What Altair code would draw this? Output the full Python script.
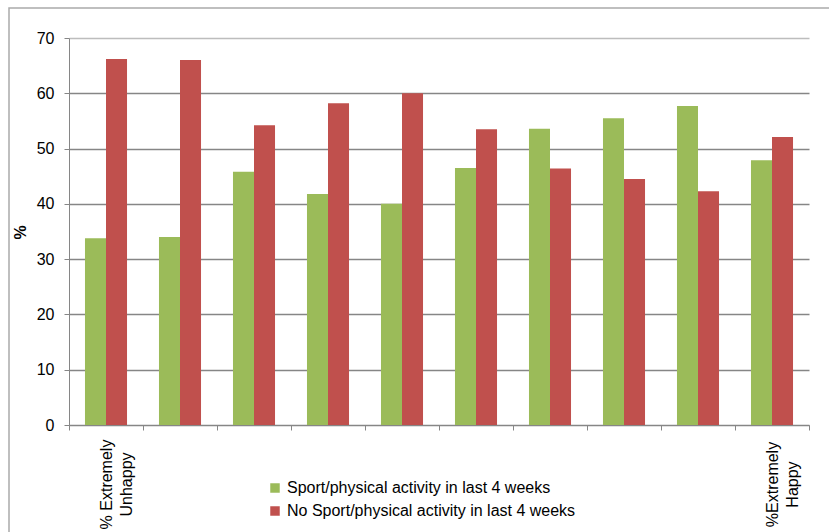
import altair as alt
import pandas as pd

# Happiness scale, 1 = extremely unhappy ... 10 = extremely happy
levels = ["1", "2", "3", "4", "5", "6", "7", "8", "9", "10"]
tick_labels = [["% Extremely", "Unhappy"], "", "", "", "", "", "", "", "", ["%Extremely", "Happy"]]
series = ["Sport/physical activity in last 4 weeks", "No Sport/physical activity in last 4 weeks"]
sport = [33.8, 34.0, 45.8, 41.8, 40.0, 46.5, 53.6, 55.5, 57.7, 47.9]
no_sport = [66.2, 66.0, 54.2, 58.2, 60.0, 53.5, 46.4, 44.5, 42.3, 52.1]
colors = ["#9BBB59", "#C0504D"]

rows = []
for lvl, a, b in zip(levels, sport, no_sport):
    rows.append({"level": lvl, "group": series[0], "pct": a})
    rows.append({"level": lvl, "group": series[1], "pct": b})
df = pd.DataFrame(rows)

# label expression: only the two ends of the scale carry a label
def as_js(v):
    if isinstance(v, list):
        return "[" + ",".join("'" + s + "'" for s in v) + "]"
    return "'" + v + "'"

label_expr = "''"
for lvl, lab in zip(levels, tick_labels):
    if lab:
        label_expr = f"datum.value == '{lvl}' ? {as_js(lab)} : ({label_expr})"

FONT = "Liberation Sans"
AXIS_GRAY = "#868686"

bars = alt.Chart(df).mark_bar().encode(
    x=alt.X(
        "level:N",
        sort=levels,
        scale=alt.Scale(paddingInner=0, paddingOuter=0),
        axis=alt.Axis(
            title=None,
            labelExpr=label_expr,
            labelAngle=270,
            labelAlign="center",
            labelBaseline="middle",
            labelPadding=54,
            labelFontSize=16,
            labelLineHeight=20,
            labelColor="#000000",
            labelFont=FONT,
            labelLimit=0,
            tickBand="extent",
            tickSize=5,
            tickColor=AXIS_GRAY,
            domainColor=AXIS_GRAY,
            labelOverlap=False,
            grid=False,
        ),
    ),
    xOffset=alt.XOffset("group:N", sort=series, scale=alt.Scale(paddingInner=0, paddingOuter=0.76)),
    y=alt.Y(
        "pct:Q",
        scale=alt.Scale(domain=[0, 70], nice=False),
        axis=alt.Axis(
            title="%",
            titleFontSize=16,
            titleFontWeight="bold",
            titleFont=FONT,
            titleColor="#000000",
            titleX=-41,
            titleY=194,
            values=[0, 10, 20, 30, 40, 50, 60, 70],
            labelFontSize=16,
            labelFont=FONT,
            labelColor="#000000",
            labelPadding=10,
            tickSize=5,
            tickColor=AXIS_GRAY,
            domainColor=AXIS_GRAY,
            gridColor={"condition": {"test": "datum.value === 70", "value": "#bdbdbd"}, "value": AXIS_GRAY},
            gridWidth=1.5,
        ),
    ),
    color=alt.Color(
        "group:N",
        sort=series,
        scale=alt.Scale(domain=series, range=colors),
        legend=alt.Legend(
            title=None,
            orient="none",
            legendX=198,
            legendY=442,
            symbolType="square",
            symbolSize=90,
            symbolStrokeWidth=0,
            labelFontSize=16,
            labelFont=FONT,
            labelColor="#000000",
            labelLimit=0,
            rowPadding=7,
            labelOffset=4,
        ),
    ),
)

# light frame around the whole chart (its right and bottom edges fall off the page)
frame_df = pd.DataFrame({"k": [0]})
frame = alt.Chart(frame_df).mark_rect(
    fill="transparent", stroke="#ababab", strokeWidth=1.5, clip=False
).encode(
    x=alt.value(-60), x2=alt.value(790), y=alt.value(-30), y2=alt.value(530)
)

chart = (
    alt.layer(bars, frame)
    .properties(
        width=740,
        height=387,
        autosize=alt.AutoSizeParams(type="none"),
        padding={"left": 69, "top": 38, "right": 20, "bottom": 107},
    )
    .configure_view(strokeWidth=0)
)

chart.save("out.html", embed_options={"renderer": "svg", "actions": False})
